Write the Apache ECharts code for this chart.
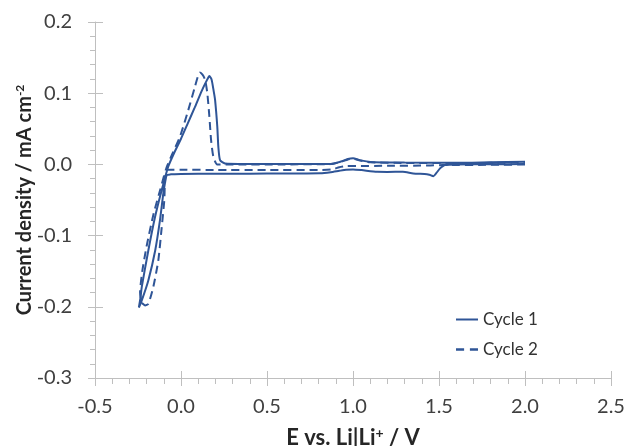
<!DOCTYPE html>
<html>
<head>
<meta charset="utf-8">
<script src="https://cdn.jsdelivr.net/npm/echarts@6/dist/echarts.min.js"></script>
<style>
  html, body { margin: 0; padding: 0; background: #ffffff; }
  #chart { width: 624px; height: 446px; }
</style>
</head>
<body>
<div id="chart"></div>
<script>
// Cyclic voltammograms: [potential (V vs Li|Li+), current density (mA cm^-2)], in sweep order
const cycle1 = [
  [2.00, 0.0004], [1.80, 0.0002], [1.60, -0.0002], [1.535, -0.001], [1.52, -0.003],
  [1.506, -0.0056], [1.485, -0.012], [1.467, -0.0165], [1.45, -0.015], [1.43, -0.0137],
  [1.35, -0.0127], [1.29, -0.0104], [1.20, -0.0105], [1.14, -0.0104], [1.05, -0.008],
  [1.00, -0.007], [0.96, -0.0075], [0.92, -0.009], [0.87, -0.011], [0.81, -0.0125],
  [0.60, -0.0128], [0.40, -0.013], [0.20, -0.013], [0.00, -0.0135], [-0.06, -0.014],
  [-0.083, -0.015], [-0.093, -0.026], [-0.103, -0.041], [-0.122, -0.078], [-0.15, -0.121],
  [-0.19, -0.163], [-0.228, -0.191], [-0.245, -0.201],
  [-0.236, -0.188], [-0.228, -0.172], [-0.19, -0.121], [-0.151, -0.074], [-0.112, -0.036],
  [-0.074, -0.003], [-0.04, 0.016], [0.00, 0.036], [0.04, 0.058], [0.08, 0.080],
  [0.12, 0.103], [0.15, 0.118], [0.165, 0.124], [0.178, 0.119], [0.19, 0.103],
  [0.198, 0.091], [0.211, 0.053], [0.217, 0.025], [0.227, 0.006], [0.256, 0.0014],
  [0.40, 0.0006], [0.60, 0.0005], [0.87, 0.0006], [0.93, 0.004], [0.97, 0.0075],
  [1.00, 0.0085], [1.04, 0.006], [1.10, 0.0035], [1.30, 0.0025], [1.60, 0.0022],
  [1.80, 0.003], [2.00, 0.0037]
];

const cycle2 = [
  [2.00, -0.0002], [1.80, -0.0006], [1.52, -0.001], [1.45, -0.0015], [1.20, -0.002],
  [1.00, -0.0022], [0.96, -0.0025], [0.92, -0.004], [0.88, -0.007], [0.80, -0.008],
  [0.50, -0.008], [0.20, -0.0078], [0.00, -0.0075], [-0.06, -0.0075], [-0.083, -0.008],
  [-0.093, -0.022], [-0.097, -0.05], [-0.112, -0.088], [-0.132, -0.135], [-0.161, -0.172],
  [-0.19, -0.196], [-0.209, -0.198], [-0.228, -0.194], [-0.238, -0.18],
  [-0.225, -0.15], [-0.20, -0.115], [-0.16, -0.07], [-0.12, -0.035], [-0.085, -0.005],
  [-0.05, 0.015], [-0.006, 0.039], [0.042, 0.076], [0.081, 0.109], [0.10, 0.125],
  [0.11, 0.129], [0.125, 0.126], [0.14, 0.119], [0.153, 0.10], [0.165, 0.067],
  [0.175, 0.034], [0.188, 0.011], [0.211, 0.0], [0.30, -0.0002], [0.60, 0.0],
  [0.87, 0.0004], [0.93, 0.0035], [0.97, 0.007], [1.00, 0.008], [1.04, 0.0055],
  [1.10, 0.003], [1.30, 0.002], [1.60, 0.0018], [1.80, 0.0022], [2.00, 0.0028]
];

const seriesNames = ['Cycle 1', 'Cycle 2'];
const xTicks = { min: -0.5, max: 2.5, step: 0.5 };
const yTicks = { min: -0.3, max: 0.2, step: 0.1 };

const FONT = 'Lato';
const AXIS_GREY = '#bfbfbf';
const INK = '#404040';
const TITLE_INK = '#262626';
const BLUE = '#2F5597';

// legend keys: a plain stroke and a two-dash stroke
const KEY_SOLID = 'path://M0,0H22V2H0Z';
const KEY_DASHED = 'path://M0,0H7V2H0ZM12,0H19V2H12Z';

const chart = echarts.init(document.getElementById('chart'), null, { renderer: 'canvas' });

const fmt = v => v.toFixed(1);

// rich styles for axis titles with a superscript part
const titleRich = size => ({
  t: { fontFamily: FONT, fontSize: size, fontWeight: 'bold', color: TITLE_INK },
  s: { fontFamily: FONT, fontSize: Math.round(size * 0.62), fontWeight: 'bold', color: TITLE_INK,
       verticalAlign: 'top', padding: [0, 0, Math.round(size * 0.45), 0] }
});

const option = {
  animation: false,
  backgroundColor: '#ffffff',
  textStyle: { fontFamily: FONT },
  grid: { left: 95, right: 13, top: 22, bottom: 68, containLabel: false, outerBoundsMode: 'none' },
  legend: {
    orient: 'vertical',
    left: 451,
    top: 306,
    itemWidth: 22,
    itemHeight: 14,
    itemGap: 13,
    symbolKeepAspect: true,
    textStyle: { fontFamily: FONT, fontSize: 17, color: '#333333' },
    data: [
      { name: seriesNames[0], icon: KEY_SOLID, itemStyle: { color: BLUE, borderWidth: 0 } },
      { name: seriesNames[1], icon: KEY_DASHED, itemStyle: { color: BLUE, borderWidth: 0 } }
    ]
  },
  xAxis: [
    {
      type: 'value', min: xTicks.min, max: xTicks.max, interval: xTicks.step,
      name: '{t|E vs. Li|Li}{s|+}{t| / V}',
      nameLocation: 'middle', nameGap: 48, nameMoveOverlap: false,
      nameTextStyle: { rich: titleRich(22) },
      axisLine: { show: true, onZero: false, lineStyle: { color: AXIS_GREY, width: 1 } },
      axisTick: { show: true, inside: false, length: 8, lineStyle: { color: AXIS_GREY } },
      minorTick: { show: true, splitNumber: 5, length: 6, lineStyle: { color: AXIS_GREY } },
      splitLine: { show: false },
      axisLabel: { formatter: fmt, fontFamily: FONT, fontSize: 20, color: INK, margin: 19 }
    },
    {
      type: 'value', min: xTicks.min, max: xTicks.max, interval: xTicks.step, position: 'bottom',
      axisLine: { show: false, onZero: false },
      axisTick: { show: true, inside: true, length: 7, lineStyle: { color: AXIS_GREY } },
      axisLabel: { show: false },
      splitLine: { show: false }
    }
  ],
  yAxis: [
    {
      type: 'value', min: yTicks.min, max: yTicks.max, interval: yTicks.step,
      name: '{t|Current density / mA cm}{s|-2}',
      nameLocation: 'middle', nameGap: 60, nameRotate: 90, nameMoveOverlap: false,
      nameTextStyle: { rich: titleRich(20) },
      axisLine: { show: true, onZero: false, lineStyle: { color: AXIS_GREY, width: 1 } },
      axisTick: { show: true, inside: false, length: 7, lineStyle: { color: AXIS_GREY } },
      minorTick: { show: true, splitNumber: 5, length: 5, lineStyle: { color: AXIS_GREY } },
      splitLine: { show: false },
      axisLabel: { formatter: fmt, fontFamily: FONT, fontSize: 20, color: INK, margin: 23 }
    },
    {
      type: 'value', min: yTicks.min, max: yTicks.max, interval: yTicks.step, position: 'left',
      axisLine: { show: false, onZero: false },
      axisTick: { show: true, inside: true, length: 8, lineStyle: { color: AXIS_GREY } },
      axisLabel: { show: false },
      splitLine: { show: false }
    }
  ],
  series: [
    {
      name: seriesNames[0], type: 'line', data: cycle1,
      xAxisIndex: 0, yAxisIndex: 0,
      showSymbol: false, symbol: 'none', smooth: 0.2, smoothMonotone: 'none',
      lineStyle: { color: BLUE, width: 2, type: 'solid' },
      itemStyle: { color: BLUE },
      z: 3
    },
    {
      name: seriesNames[1], type: 'line', data: cycle2,
      xAxisIndex: 0, yAxisIndex: 0,
      showSymbol: false, symbol: 'none', smooth: 0.2, smoothMonotone: 'none',
      lineStyle: { color: BLUE, width: 2, type: [8, 5] },
      itemStyle: { color: BLUE },
      z: 3
    }
  ]
};

chart.setOption(option);
</script>
</body>
</html>
